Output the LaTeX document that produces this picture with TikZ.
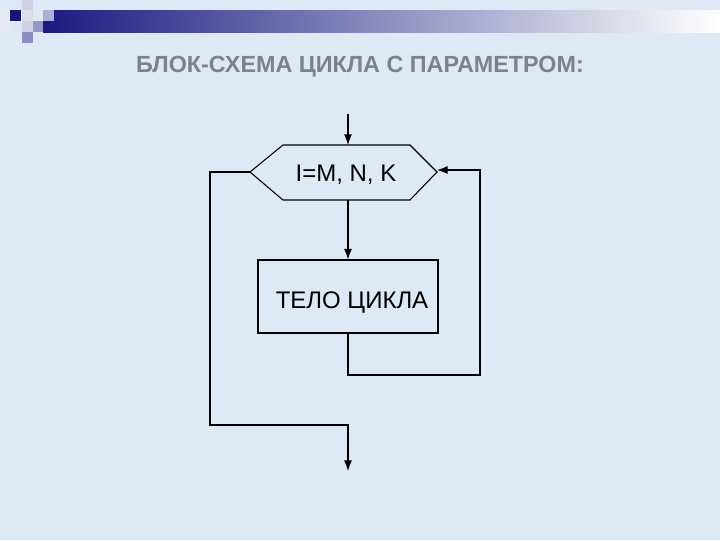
\documentclass[tikz,border=0pt]{standalone}
\usepackage{fontspec}
\setmainfont{Liberation Sans}
\usetikzlibrary{arrows.meta}
\definecolor{bg}{HTML}{DDE9F5}
\definecolor{navy}{HTML}{1A1A80}
\definecolor{ttl}{HTML}{7F7F8F}
\begin{document}
\begin{tikzpicture}[x=0.75pt,y=-0.75pt,
  ln/.style={line width=0.8pt,black},
  ar/.style={ln,-{Latex[length=8pt,width=6pt]}},
  lbl/.style={font=\fontsize{18}{21}\selectfont}]
\useasboundingbox (0,0) rectangle (720,540);
\fill[bg] (0,0) rectangle (720,540);
% decoration
\shade[left color=navy,right color=white] (43,10) rectangle (720,32);
\fill[navy!90!black] (10,10) rectangle (21,21);
\fill[white!80!navy] (22,0) rectangle (33,10);
\fill[white!85!navy] (22,10) rectangle (33,21);
\fill[white!65!navy] (43,10) rectangle (54,21);
\fill[white!80!navy] (22,21) rectangle (33,32);
\fill[white!55!navy] (33,21) rectangle (43,32);
\fill[white!50!navy] (22,32) rectangle (33,43);
\fill[white!90!navy] (0,10) rectangle (10,32);
\node[font=\bfseries\fontsize{17.5}{20}\selectfont,text=ttl] (title) at (360,67) {БЛОК-СХЕМА ЦИКЛА С ПАРАМЕТРОМ:};
% hexagon
\coordinate (hl) at (250,172); \coordinate (hr) at (437,172);
\draw[ln,fill=bg] (hl) -- (283,145) -- (410,145) -- (hr) -- (410,200) -- (283,200) -- cycle;
\node[lbl] (hex) at (346,175) {I=M, N, K};
\coordinate (htop) at (348,145); \coordinate (hbot) at (348,200);
\coordinate (in) at (348,114);
\draw[ar] (in) -- (htop);
\node[draw,ln,minimum width=180*0.75pt,minimum height=73*0.75pt,inner sep=0pt] (body) at (348,296.5) {};
\node[lbl] (bodyt) at (352,303) {ТЕЛО ЦИКЛА};
\draw[ar] (hbot) -- (body.north);
\coordinate (r1) at (348,375); \coordinate (r2) at (480,375); \coordinate (r3) at (480,170); \coordinate (r4) at (437,170);
\draw[ar] (body.south) -- (r1) -- (r2) -- (r3) -- (r4);
\coordinate (e1) at (210,172); \coordinate (e2) at (210,425); \coordinate (e3) at (348,425); \coordinate (e4) at (348,471);
\draw[ar] (hl) -- (e1) -- (e2) -- (e3) -- (e4);
\end{tikzpicture}
\end{document}
